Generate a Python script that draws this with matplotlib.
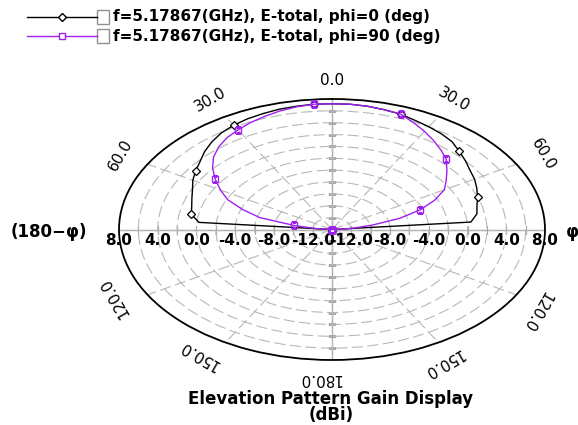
import numpy as np
import matplotlib.pyplot as plt
from matplotlib.lines import Line2D
from matplotlib.patches import Rectangle
from matplotlib.transforms import offset_copy

# elevation angle in degrees, 0 = zenith, clockwise; negative side is the (180-phi) cut
theta_deg = np.arange(-180, 181, 5)

# gain in dBi, -14 is the bottom of the scale (plot centre)
gain_phi0 = [
    -14.0, -14.0, -14.0, -14.0, -14.0, -14.0, -14.0, -14.0, -14.0,   # -180 .. -140
    -14.0, -14.0, -14.0, -14.0, -14.0, -14.0, -14.0, -14.0, -14.0,   # -135 .. -95
    -14.0, -0.2, 0.75, 1.0, 1.4, 1.9, 2.6, 3.2, 3.8, 4.6,            # -90 .. -45
    5.3, 5.9, 6.3, 6.6, 6.8, 7.0, 7.1, 7.2,                          # -40 .. -5
    7.2,                                                             # 0
    7.2, 7.1, 6.9, 6.7, 6.3, 6.0, 5.7, 5.3,                          # 5 .. 40
    4.6, 4.0, 3.4, 3.0, 2.5, 2.0, 1.5, 1.2, 0.4, -14.0,              # 45 .. 90
    -14.0, -14.0, -14.0, -14.0, -14.0, -14.0, -14.0, -14.0, -14.0,   # 95 .. 135
    -14.0, -14.0, -14.0, -14.0, -14.0, -14.0, -14.0, -14.0, -14.0,   # 140 .. 180
]
gain_phi90 = [
    -14.0, -14.0, -14.0, -14.0, -14.0, -14.0, -14.0, -14.0, -14.0,
    -14.0, -14.0, -14.0, -14.0, -14.0, -14.0, -14.0, -14.0, -14.0,
    -14.0, -12.3, -10.0, -6.3, -4.2, -2.1, -0.7, 0.7, 2.1, 3.3,
    4.2, 4.9, 5.4, 5.9, 6.3, 6.7, 7.0, 7.2,
    7.2,
    7.2, 7.1, 6.9, 6.7, 5.9, 5.1, 4.3, 3.5,
    2.7, 1.5, 0.4, -0.6, -2.3, -4.3, -6.8, -9.8, -12.0, -14.0,
    -14.0, -14.0, -14.0, -14.0, -14.0, -14.0, -14.0, -14.0, -14.0,
    -14.0, -14.0, -14.0, -14.0, -14.0, -14.0, -14.0, -14.0, -14.0,
]

series_labels = ["f=5.17867(GHz), E-total, phi=0 (deg)",
                 "f=5.17867(GHz), E-total, phi=90 (deg)"]
r_min, r_max = -14, 8
r_rings = np.arange(-12, 8, 2)
r_ticks = [8, 4, 0, -4, -8, -12]
angle_ticks = [0, 30, 60, 120, 150, 180, -30, -60, -120, -150]

PURPLE = "#a020f0"
GRID = "#b8b8b8"
W, H = 578, 425


def fx(px):
    return px / W


def fy(py):
    return 1 - py / H


fig = plt.figure(figsize=(W / 100, H / 100), dpi=100)
ax = fig.add_axes([fx(119), fy(360), fx(426), 261 / H], projection="polar")
ax.set_aspect("auto")
ax.set_theta_zero_location("N")
ax.set_theta_direction(-1)
ax.set_rlim(r_min, r_max)
ax.set_thetagrids(range(0, 360, 30), labels=[])
ax.set_rgrids(r_rings, labels=[])
ax.grid(True, color=GRID, lw=0.8, ls=(0, (10, 4)))
ax.spines["polar"].set_linewidth(1.3)

# solid main axes with small tick crosses at each ring
for a in (0, 90, 180, 270):
    ax.axvline(np.deg2rad(a), color="#a8a8a8", lw=1.0, zorder=1)
    ax.plot(np.full(len(r_rings), np.deg2rad(a)), r_rings, ls="none",
            marker="|" if a in (90, 270) else "_", ms=6, mew=0.9,
            color="#a8a8a8", zorder=1)

th = np.deg2rad(theta_deg)
ax.plot(th, gain_phi0, color="black", lw=1.0, marker="D", ms=4.5,
        mfc="white", mec="black", mew=0.9, markevery=5, zorder=3)
ax.plot(th, gain_phi90, color=PURPLE, lw=1.0, marker="s", ms=4.5,
        mfc="none", mec=PURPLE, mew=1.0, markevery=5, zorder=4)

# radial scale labels along the horizontal axis
lab_tr = offset_copy(ax.transData, fig=fig, y=-11, units="dots")
for v in r_ticks:
    for side in (-90, 90):
        ax.text(np.deg2rad(side), v, f"{v:.1f}", transform=lab_tr,
                ha="center", va="center", fontsize=11, fontweight="bold")

# angle labels along the rim; the upside-down ones sit a little clockwise
for a in angle_ticks:
    pos = a + 3 if abs(a) > 90 else a
    ax.text(np.deg2rad(pos), 11.2, f"{abs(a):.1f}", rotation=-a,
            rotation_mode="anchor", ha="center", va="center", fontsize=11)

fig.text(fx(49), fy(232), "(180\u2212\u03c6)", ha="center", va="center",
         fontsize=12, fontweight="bold")
fig.text(fx(566), fy(232), "\u03c6", ha="left", va="center",
         fontsize=12, fontweight="bold")

fig.text(fx(331), fy(424), "Elevation Pattern Gain Display\n(dBi)",
         ha="center", va="bottom", multialignment="center", linespacing=0.85,
         fontsize=12, fontweight="bold")

# legend rows: line with marker, check box, label
for row, (color, mk, label) in enumerate([("black", "D", series_labels[0]),
                                          (PURPLE, "s", series_labels[1])]):
    y = 17 + 19 * row
    fig.add_artist(Line2D([fx(27), fx(97)], [fy(y), fy(y)], color=color,
                          lw=1.0, transform=fig.transFigure))
    fig.add_artist(Line2D([fx(62)], [fy(y)], color=color, marker=mk, ms=4.5,
                          mfc="white", mec=color, transform=fig.transFigure))
    fig.add_artist(Rectangle((fx(97), fy(y + 7)), fx(12), 14 / H,
                             facecolor="white", edgecolor="#909090", lw=1.0,
                             transform=fig.transFigure))
    fig.text(fx(113), fy(y), label, ha="left", va="center", fontsize=11,
             fontweight="bold")

fig.savefig("out.png", dpi=100)
